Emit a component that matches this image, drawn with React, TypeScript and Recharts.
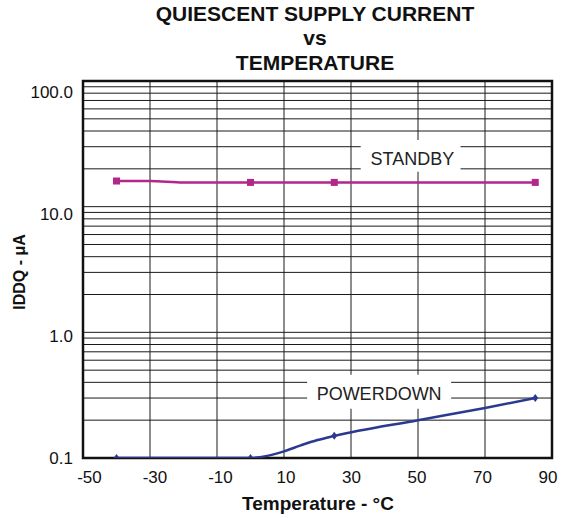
import React from 'react';
import { ComposedChart, Line, XAxis, YAxis, CartesianGrid, ReferenceArea } from 'recharts';

const FONT = '"Liberation Sans", Arial, Helvetica, sans-serif';

// Temperature (°C) axis ticks
const TEMP_TICKS = [-50, -30, -10, 10, 30, 50, 70, 90];
// Log grid values for IDDQ (µA)
const IDDQ_GRID = [
  0.1, 0.2, 0.3, 0.4, 0.5, 0.6, 0.7, 0.8, 0.9,
  1, 2, 3, 4, 5, 6, 7, 8, 9,
  10, 20, 30, 40, 50, 60, 70, 80, 90,
  100,
];
const DECADES = [0.1, 1, 10, 100];
const DECADE_TEXT = ['0.1', '1.0', '10.0', '100.0'];

// STANDBY series
const STANDBY_T = [-40, -30, -20, 0, 25, 85];
const STANDBY_V = [16.0, 16.0, 15.6, 15.6, 15.6, 15.6];
const STANDBY_MARKS = [-40, 0, 25, 85];

// POWERDOWN series
const POWERDOWN_T = [-40, 0, 5, 10, 15, 20, 25, 50, 70, 85];
const POWERDOWN_V = [0.1, 0.1, 0.104, 0.113, 0.126, 0.139, 0.15, 0.2, 0.25, 0.3];
const POWERDOWN_MARKS = [-40, 0, 25, 85];

const standbyData = STANDBY_T.map((t, i) => ({ t, v: STANDBY_V[i] }));
const powerdownData = POWERDOWN_T.map((t, i) => ({ t, v: POWERDOWN_V[i] }));

const MAGENTA = '#B3268A';
const NAVY = '#2B3990';

const XTick = (props: any) => {
  const { x, y, payload } = props;
  const v = payload.value;
  const dx = 2.75 - 0.075 * v;
  return (
    <text x={x + dx} y={y + 25} textAnchor="middle" fontSize={17} fontFamily={FONT} fill="#111">
      {String(v)}
    </text>
  );
};

const YTick = (props: any) => {
  const { x, y, payload } = props;
  const v = payload.value;
  const idx = DECADES.findIndex((d) => Math.abs(d - v) < 1e-9);
  if (idx < 0) return <g />;
  const dy = 6 + 3.7 * idx;
  return (
    <text x={x - 10} y={y + dy} textAnchor="end" fontSize={17} fontFamily={FONT} fill="#111">
      {DECADE_TEXT[idx]}
    </text>
  );
};

const squareDot = (props: any) => {
  const { cx, cy, payload, index } = props;
  if (!STANDBY_MARKS.includes(payload.t)) return <g key={'s' + index} />;
  return <rect key={'s' + index} x={cx - 3.5} y={cy - 3.5} width={7} height={7} fill={MAGENTA} />;
};

const diamondDot = (props: any) => {
  const { cx, cy, payload, index } = props;
  if (!POWERDOWN_MARKS.includes(payload.t)) return <g key={'p' + index} />;
  return (
    <path
      key={'p' + index}
      d={`M${cx},${cy - 4} L${cx + 3},${cy} L${cx},${cy + 4} L${cx - 3},${cy} Z`}
      fill={NAVY}
    />
  );
};

const boxLabel = (text: string, dx: number, dy: number) => (props: any) => {
  const vb = props.viewBox || {};
  return (
    <text
      x={vb.x + vb.width / 2 + dx}
      y={vb.y + vb.height / 2 + dy}
      textAnchor="middle"
      fontSize={18}
      fontFamily={FONT}
      fill="#222"
    >
      {text}
    </text>
  );
};

export default function App() {
  return (
    <div style={{ position: 'absolute', left: 0, top: 0, width: 566, height: 518, background: '#fff' }}>
      <ComposedChart width={566} height={518} margin={{ top: 81, right: 14, bottom: 0, left: 0 }}>
        <CartesianGrid stroke="#1a1a1a" strokeWidth={1} />
        <XAxis
          dataKey="t"
          type="number"
          domain={[-50, 90]}
          ticks={TEMP_TICKS}
          interval={0}
          height={60}
          axisLine={false}
          tickLine={false}
          tickSize={0}
          tickMargin={0}
          tick={<XTick />}
          allowDataOverflow
        />
        <YAxis
          type="number"
          scale="log"
          domain={[0.1, 100]}
          ticks={IDDQ_GRID}
          interval={0}
          width={83}
          axisLine={false}
          tickLine={false}
          tickSize={0}
          tickMargin={0}
          tick={<YTick />}
          allowDataOverflow
        />
        <ReferenceArea
          x1={32.9}
          x2={62.7}
          y1={19}
          y2={34}
          fill="#fff"
          fillOpacity={1}
          stroke="none"
          label={boxLabel('STANDBY', 1.7, 9)}
        />
        <ReferenceArea
          x1={16.9}
          x2={59.9}
          y1={0.247}
          y2={0.46}
          fill="#fff"
          fillOpacity={1}
          stroke="none"
          label={boxLabel('POWERDOWN', 0, 8)}
        />
        <ReferenceArea x1={-50} x2={90} y1={0.1} y2={100} fill="none" stroke="#111" strokeWidth={2.5} />
        <Line
          data={standbyData}
          dataKey="v"
          type="monotone"
          stroke={MAGENTA}
          strokeWidth={2.5}
          dot={squareDot}
          activeDot={false}
          isAnimationActive={false}
        />
        <Line
          data={powerdownData}
          dataKey="v"
          type="monotone"
          stroke={NAVY}
          strokeWidth={2.5}
          dot={diamondDot}
          activeDot={false}
          isAnimationActive={false}
        />
      </ComposedChart>
      <svg
        width={566}
        height={518}
        style={{ position: 'absolute', left: 0, top: 0, pointerEvents: 'none' }}
      >
        <g fontFamily={FONT} fontWeight="bold" fill="#111" textAnchor="middle">
          <text x={315} y={21} fontSize={21}>QUIESCENT SUPPLY CURRENT</text>
          <text x={315} y={44.5} fontSize={21}>vs</text>
          <text x={315} y={70} fontSize={21}>TEMPERATURE</text>
          <text x={318} y={509.5} fontSize={19}>Temperature - °C</text>
          <text transform="translate(25,272) rotate(-90)" fontSize={16}>IDDQ - μA</text>
        </g>
      </svg>
    </div>
  );
}
